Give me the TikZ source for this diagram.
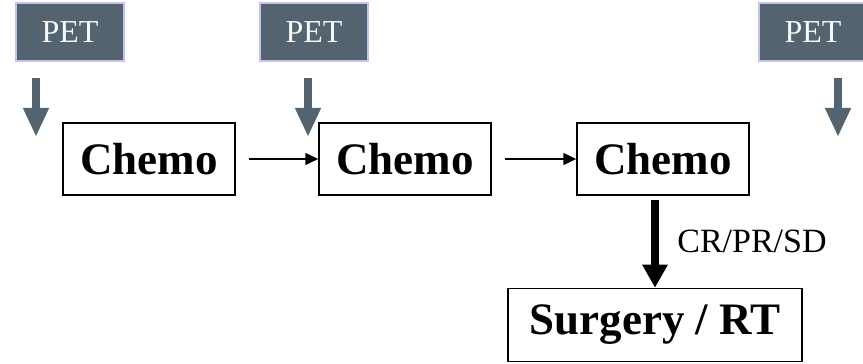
\documentclass[tikz,border=0pt]{standalone}
\usepackage{fontspec}
\setmainfont{Liberation Serif}
\usetikzlibrary{positioning,calc,arrows.meta}
\definecolor{petgray}{HTML}{536470}
\definecolor{petedge}{HTML}{C4C4F2}

\begin{document}
\begin{tikzpicture}[x=1pt,y=1pt,
    petbox/.style={draw=petedge, line width=1.2pt, fill=petgray, text=white!94!gray,
        minimum width=108pt, minimum height=58pt, inner sep=0pt, font=\fontsize{32}{34}\selectfont},
    chemobox/.style={draw, line width=1.5pt, minimum width=172pt, minimum height=72pt,
        inner sep=0pt, font=\fontsize{45}{47}\selectfont\bfseries},
    petarrow/.style={petgray, line width=8pt, -{Triangle[width=24pt,length=29pt]}},
    steparrow/.style={line width=1.5pt, -{Triangle[width=12pt,length=13pt]}, shorten <=13pt}]

    \useasboundingbox (0,0) rectangle (863,364);

    % PET scans
    \node[petbox] (pet1) at (70,332) {PET};
    \node[petbox] (pet2) at (314,332) {PET};
    \node[petbox] (pet3) at (813,332) {PET};
    \coordinate (p1a) at (36,286);  \coordinate (p1b) at (36,227);
    \coordinate (p2a) at (308,286); \coordinate (p2b) at (308,227);
    \coordinate (p3a) at (838,286); \coordinate (p3b) at (838,227);
    \draw[petarrow] (p1a) -- (p1b);
    \draw[petarrow] (p2a) -- (p2b);
    \draw[petarrow] (p3a) -- (p3b);

    % Chemo cycles
    \node[chemobox] (chemo1) at (149,205) {Chemo};
    \node[chemobox] (chemo2) at (405,205) {Chemo};
    \node[chemobox] (chemo3) at (663,205) {Chemo};
    \draw[steparrow] (chemo1) -- (chemo2);
    \draw[steparrow] (chemo2) -- (chemo3);

    % Local treatment
    \node[chemobox, minimum width=294pt, minimum height=73pt] (surg) at (655,39) {Surgery / RT};
    \draw[line width=8pt, -{Triangle[width=24pt,length=23pt]}, shorten <=4pt]
        (surg.north |- chemo3.south) -- (surg.north)
        node[midway, right=15pt, font=\fontsize{34}{36}\selectfont] {CR/PR/SD};
\end{tikzpicture}
\end{document}
